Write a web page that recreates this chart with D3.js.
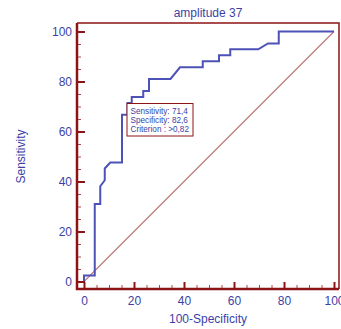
<!DOCTYPE html>
<html>
<head>
<meta charset="utf-8">
<script src="https://cdn.jsdelivr.net/npm/d3@7"></script>
<style>
  html, body { margin: 0; padding: 0; background: #fff; }
  svg { display: block; font-family: "Liberation Sans", Arial, sans-serif; }
</style>
</head>
<body>
<div id="chart"></div>
<script>
// ROC curve
const fpr  = [0, 0, 4.3, 4.3, 6.5, 6.5, 8.3, 8.3, 10.5, 15.2, 15.2, 17.4, 17.4, 19.1, 19.1, 23.7, 23.7, 26.0, 26.0, 34.6, 38.4, 47.5, 47.5, 54.0, 54.0, 58.5, 58.5, 69.7, 73.6, 77.9, 77.9, 100];
const sens = [0, 2.4, 2.4, 31.0, 31.0, 38.1, 40.5, 45.2, 47.6, 47.6, 66.7, 66.7, 71.4, 71.4, 73.8, 73.8, 76.2, 76.2, 81.0, 81.0, 85.7, 85.7, 88.1, 88.1, 90.5, 90.5, 92.9, 92.9, 95.2, 95.2, 100, 100];
const majorTicks = [0, 20, 40, 60, 80, 100];
const minorTicks = [5, 10, 15, 25, 30, 35, 45, 50, 55, 65, 70, 75, 85, 90, 95];
const boxLines = ["Sensitivity: 71,4", "Specificity: 82,6", "Criterion : >0,82"];
const title = "amplitude 37";
const xTitle = "100-Specificity";
const yTitle = "Sensitivity";

const width = 341, height = 329;
const red = "#8c1414", blue = "#3b3fa6";

const svg = d3.select("#chart").append("svg")
  .attr("width", width).attr("height", height);

const x = d3.scaleLinear().domain([-2.8, 102]).range([77, 339]);
const y = d3.scaleLinear().domain([-3, 103.4]).range([289, 23]);

// reference diagonal
svg.append("line")
  .attr("x1", x(0)).attr("y1", y(0))
  .attr("x2", x(100)).attr("y2", y(100))
  .attr("stroke", "#c07c7c").attr("stroke-width", 1.2);

// roc curve
const pts = fpr.map((d, i) => [d, sens[i]]);
svg.append("path")
  .datum(pts)
  .attr("fill", "none")
  .attr("stroke", "#4d53b6")
  .attr("stroke-width", 2)
  .attr("d", d3.line().x(d => x(d[0])).y(d => y(d[1])));

// criterion box
const box = svg.append("g").attr("transform", "translate(127,103.5)");
box.append("rect")
  .attr("width", 66).attr("height", 32.5)
  .attr("fill", "#fff").attr("stroke", red).attr("stroke-width", 1);
box.selectAll("text").data(boxLines).enter().append("text")
  .attr("x", 3.5).attr("y", (d, i) => 10 + i * 9.3)
  .attr("font-size", 8.2).attr("fill", blue)
  .text(d => d);

// axes, ticks inside
const yMinor = svg.append("g").attr("transform", `translate(${x.range()[0]},0)`)
  .call(d3.axisLeft(y).tickValues(minorTicks).tickSizeInner(-4).tickSizeOuter(0).tickFormat(""));
const yMajor = svg.append("g").attr("transform", `translate(${x.range()[0]},0)`)
  .call(d3.axisLeft(y).tickValues(majorTicks).tickSizeInner(-8).tickSizeOuter(0).tickPadding(5));
const xMinor = svg.append("g").attr("transform", `translate(0,${y.range()[0]})`)
  .call(d3.axisBottom(x).tickValues(minorTicks).tickSizeInner(-4).tickSizeOuter(0).tickFormat(""));
const xMajor = svg.append("g").attr("transform", `translate(0,${y.range()[0]})`)
  .call(d3.axisBottom(x).tickValues(majorTicks).tickSizeInner(-7).tickSizeOuter(0).tickPadding(7.5));

[yMinor, yMajor, xMinor, xMajor].forEach(g => g.select(".domain").remove());
[yMinor, xMinor].forEach(g => g.selectAll(".tick line").attr("stroke", "#b04848").attr("stroke-width", 1));
[yMajor, xMajor].forEach(g => {
  g.selectAll(".tick line").attr("stroke", red).attr("stroke-width", 2);
  g.selectAll(".tick text").attr("fill", blue).attr("font-size", 12)
    .attr("font-family", "Liberation Sans, Arial, sans-serif");
});

// frame: thin top/right, heavy axes
svg.append("path")
  .attr("d", `M${x.range()[0]},${y.range()[1]}H${x.range()[1]}V${y.range()[0]}`)
  .attr("fill", "none").attr("stroke", red).attr("stroke-width", 1.5);
svg.append("path")
  .attr("d", `M${x.range()[0]},${y.range()[1]}V${y.range()[0]}H${x.range()[1]}`)
  .attr("fill", "none").attr("stroke", red).attr("stroke-width", 2.5);

// titles
svg.append("text")
  .attr("x", 208).attr("y", 16.5)
  .attr("text-anchor", "middle").attr("font-size", 12).attr("fill", blue)
  .text(title);
svg.append("text")
  .attr("x", 208).attr("y", 322.5)
  .attr("text-anchor", "middle").attr("font-size", 12).attr("fill", blue)
  .text(xTitle);
svg.append("text")
  .attr("transform", "translate(25,156.5) rotate(-90)")
  .attr("text-anchor", "middle").attr("font-size", 12).attr("fill", blue)
  .text(yTitle);
</script>
</body>
</html>
